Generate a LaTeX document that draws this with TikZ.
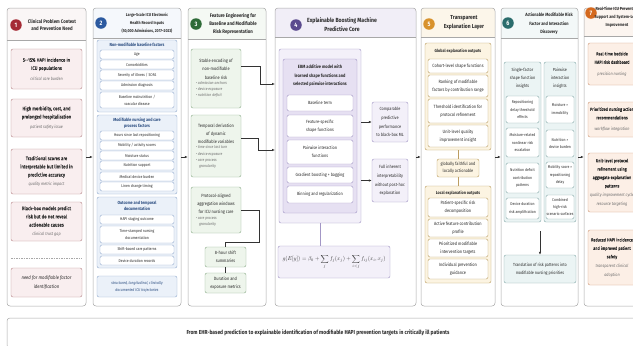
\documentclass[tikz,border=0pt]{standalone}
\usepackage{fontspec}
\setmainfont{Fira Sans}[FakeStretch=0.85]
\newfontfamily\semib{Fira Sans}[FakeStretch=0.85,FakeBold=0.5]
\usetikzlibrary{arrows.meta}
\definecolor{ink}{HTML}{2B2B2B}
\definecolor{soft}{HTML}{6E6E6E}
\definecolor{rule}{HTML}{A8A8A8}
\definecolor{arr}{HTML}{333333}
\definecolor{c1}{HTML}{A52A35}\definecolor{c1fill}{HTML}{F9EEEF}\definecolor{c1line}{HTML}{B9888C}\definecolor{c1hdr}{HTML}{FAF6F6}
\definecolor{c2}{HTML}{2C5AA0}\definecolor{c2fill}{HTML}{EBF1F9}\definecolor{c2line}{HTML}{96AED0}\definecolor{c2hdr}{HTML}{F5F8FC}\definecolor{c2txt}{HTML}{2A4C80}
\definecolor{c3}{HTML}{2E6B37}\definecolor{c3fill}{HTML}{EEF5EC}\definecolor{c3line}{HTML}{8FB08D}\definecolor{c3hdr}{HTML}{F5F9F4}
\definecolor{c4}{HTML}{5B4A8E}\definecolor{c4fill}{HTML}{F3F0F9}\definecolor{c4fillb}{HTML}{E6E0F2}\definecolor{c4line}{HTML}{A397C6}\definecolor{c4hdr}{HTML}{F1EEF7}
\definecolor{c5}{HTML}{D8922C}\definecolor{c5fill}{HTML}{FCF4E2}\definecolor{c5line}{HTML}{BC9E62}\definecolor{c5hdr}{HTML}{FCF6EA}
\definecolor{c6}{HTML}{2A6C6C}\definecolor{c6fill}{HTML}{EBF4F4}\definecolor{c6line}{HTML}{88ACAC}\definecolor{c6hdr}{HTML}{F3F8F8}
\definecolor{c7}{HTML}{D4691F}\definecolor{c7fill}{HTML}{FCEFE6}\definecolor{c7line}{HTML}{D09B7A}\definecolor{c7hdr}{HTML}{FCF5F0}
\newcommand\fA{\fontsize{5}{8.2}\selectfont\semib}
\newcommand\fB{\fontsize{4}{7}\selectfont}
\newcommand\fI{\fontsize{4.4}{5.6}\selectfont\normalfont\itshape\color{soft}}
\newcommand\mybox[7]{%
  \pgfmathsetmacro\mbW{(#5)-(#3)}%
  \pgfmathsetmacro\mbH{(#6)-(#4)}%
  \pgfmathsetmacro\mbX{((#3)+(#5))/2}%
  \pgfmathsetmacro\mbY{((#4)+(#6))/2}%
  \node[#1,inner sep=0pt,minimum width=\mbW pt,minimum height=\mbH pt,align=center] (#2) at (\mbX,\mbY) {#7};}
\newcommand\mypanel[5]{%
  \begin{scope}
    \clip[rounded corners=3pt] (#2,8) rectangle (#3,306);
    \fill[white] (#2,8) rectangle (#3,306);
    \fill[#5hdr] (#2,8) rectangle (#3,#4);
  \end{scope}
  \draw[rule,line width=0.4pt] (#2,#4) -- (#3,#4);
  \mybox{panelb}{#1}{#2}{8}{#3}{306}{}}
\begin{document}
\begin{tikzpicture}[x=1pt,y=-1pt,
  panelb/.style={draw=rule,line width=0.5pt,rounded corners=3pt},
  gbox/.style={draw=#1line,fill=#1fill,rounded corners=2pt,line width=0.45pt,text=ink},
  wbox/.style={draw=#1line,fill=white,rounded corners=1.5pt,line width=0.4pt,text=ink},
  ibox/.style={draw=c4line,fill=c4fillb,rounded corners=2pt,line width=0.45pt},
  num/.style={circle,fill=#1,text=white,inner sep=0pt,minimum size=11.5pt,font=\fontsize{6.4}{6.4}\selectfont\bfseries},
  ttl/.style={align=center,inner sep=0pt,text=ink},
  gttl/.style={align=center,inner sep=0pt,text=ink,font=\fontsize{4.4}{5.8}\selectfont\bfseries},
  cn/.style={draw=arr,line width=0.5pt},
  arw/.style={cn,-{Latex[length=3pt,width=2.4pt]}}]
\useasboundingbox (0,0) rectangle (633,346);
\clip (0,0) rectangle (633,346);
\fill[white] (0,0) rectangle (633,346);

% ---------------- Panel 1
\mypanel{P1}{7}{86}{40}{c1}
\node[num=c1] (n1) at (16,25) {1};
\node[ttl,font=\fontsize{5.1}{7}\selectfont\bfseries] (t1) at (52,25) {Clinical Problem Context\\and Prevention Need};
\mybox{gbox=c1,font=\fA}{A1}{11}{49}{82}{89}{5--15\% HAPI incidence in\\ICU populations\\[2pt]{\fI critical care burden}}
\mybox{gbox=c1,font=\fA}{A2}{11}{99}{82}{137}{High morbidity, cost, and\\prolonged hospitalization\\[2pt]{\fI patient safety issue}}
\mybox{gbox=c1,font=\fA}{A3}{11}{149}{82}{194}{Traditional scores are\\interpretable but limited in\\predictive accuracy\\[1pt]{\fI quality metric impact}}
\mybox{gbox=c1,font=\fA}{A4}{11}{202}{82}{241}{Black-box models predict\\risk but do not reveal\\actionable causes\\[1pt]{\fI clinical trust gap}}
\draw[rule,dashed,dash pattern=on 1.5pt off 1pt,line width=0.4pt] (11,258) -- (82,258);
\mybox{gbox=c1,font=\fontsize{5}{8.2}\selectfont\itshape}{A5}{11}{268}{82}{297}{need for modifiable factor\\identification}

% ---------------- Panel 2
\mypanel{P2}{93}{181}{38}{c2}
\node[num=c2] (n2) at (101,23) {2};
\node[ttl,font=\fontsize{4.2}{8}\selectfont\bfseries] (t2) at (147,23) {Large-Scale ICU Electronic\\Health Record Inputs\\(50,000 Admissions, 2017--2023)};
\mybox{gbox=c2}{G21}{97}{40}{177}{112}{}
\node[gttl,text=c2txt] (g21) at (137,45) {Non-modifiable baseline factors};
\mybox{wbox=c2,font=\fB}{I21}{100}{50}{174}{59}{Age}
\mybox{wbox=c2,font=\fB}{I22}{100}{60}{174}{69}{Comorbidities}
\mybox{wbox=c2,font=\fB}{I23}{100}{70}{174}{80}{Severity of illness / SOFA}
\mybox{wbox=c2,font=\fB}{I24}{100}{81}{174}{90}{Admission diagnosis}
\mybox{wbox=c2,font=\fB}{I25}{100}{92}{174}{108}{Baseline malnutrition /\\vascular disease}
\mybox{gbox=c2}{G22}{97}{115}{177}{194}{}
\node[gttl,text=c2txt] (g22) at (137,123) {Modifiable nursing and care\\process factors};
\mybox{wbox=c2,font=\fB}{I26}{100}{131}{174}{140}{Hours since last repositioning}
\mybox{wbox=c2,font=\fB}{I27}{100}{141}{174}{150}{Mobility / activity scores}
\mybox{wbox=c2,font=\fB}{I28}{100}{151}{174}{160}{Moisture status}
\mybox{wbox=c2,font=\fB}{I29}{100}{161}{174}{170}{Nutrition support}
\mybox{wbox=c2,font=\fB}{I210}{100}{172}{174}{181}{Medical device burden}
\mybox{wbox=c2,font=\fB}{I211}{100}{182}{174}{191}{Linen change timing}
\mybox{gbox=c2}{G23}{97}{197}{177}{268}{}
\node[gttl,text=c2txt] (g23) at (137,206) {Outcome and temporal\\documentation};
\mybox{wbox=c2,font=\fB}{I212}{100}{215}{174}{224}{HAPI staging outcome}
\mybox{wbox=c2,font=\fB}{I213}{100}{226}{174}{243}{Time-stamped nursing\\documentation}
\mybox{wbox=c2,font=\fB}{I214}{100}{245}{174}{254}{Shift-based care patterns}
\mybox{wbox=c2,font=\fB}{I215}{100}{256}{174}{265}{Device duration records}
\mybox{gbox=c2,font=\fB\itshape,text=c2txt}{G24}{97}{276}{177}{297}{structured, longitudinal, clinically\\documented ICU trajectories}

% ---------------- Panel 3
\mypanel{P3}{188}{266}{39}{c3}
\node[num=c3] (n3) at (196,24) {3};
\node[ttl,font=\fontsize{5.1}{8}\selectfont\bfseries] (t3) at (233,24) {Feature Engineering for\\Baseline and Modifiable\\Risk Representation};
\mybox{gbox=c3,font=\fontsize{4.6}{8.2}\selectfont}{S}{191}{49}{241}{108}{Stable encoding of\\non-modifiable\\baseline risk\\[1pt]\parbox{40pt}{\raggedright\fontsize{4}{6.3}\selectfont\itshape\color{soft}\textbullet\ admission anchors\\\textbullet\ device exposure\\\textbullet\ nutrition deficit}}
\mybox{gbox=c3,font=\fontsize{4.6}{8.2}\selectfont}{T}{191}{115}{241}{177}{Temporal derivation\\of dynamic\\modifiable variables\\[1pt]\parbox{40pt}{\raggedright\fontsize{4}{6.3}\selectfont\itshape\color{soft}\textbullet\ time since last turn\\\textbullet\ device exposure\\\textbullet\ care process\\\hspace*{3pt}granularity}}
\mybox{gbox=c3,font=\fontsize{4.6}{8.2}\selectfont}{Pr}{191}{187}{241}{233}{Protocol-aligned\\aggregation windows\\for ICU nursing care\\[1pt]\parbox{40pt}{\raggedright\fontsize{4}{6.3}\selectfont\itshape\color{soft}\textbullet\ care process\\\hspace*{3pt}granularity}}
\mybox{gbox=c3,font=\fontsize{4.6}{8.2}\selectfont}{Sh}{205}{247}{246}{267}{8-hour shift\\summaries}
\mybox{gbox=c3,font=\fontsize{4.6}{8.2}\selectfont}{Du}{205}{273}{246}{293}{Duration and\\exposure metrics}
\coordinate (aS) at (275,84);
\coordinate (aT) at (275,150);
\draw[arw] ([yshift=12.5pt]S.east) -- ++(19,0) |- (aS);
\draw[arw] ([yshift=8pt]T.east) -- ++(17,0) |- (aT);
\draw[cn] (Pr.east) -- ++(18,0) -- ++(0,32) -| (Sh.north);
\draw[cn] (Sh.south) -- (Du.north);

% ---------------- Panel 4
\mypanel{P4}{275}{416}{37}{c4}
\node[num=c4] (n4) at (296,25) {4};
\node[ttl,font=\fontsize{6}{9}\selectfont\bfseries] (t4) at (342,25) {Explainable Boosting Machine\\Predictive Core};
\mybox{gbox=c4}{E}{279}{49}{361}{223}{}
\mybox{ibox}{Ei}{283}{59}{357}{213}{}
\node[ttl,font=\fontsize{4.6}{8.6}\selectfont\bfseries] (Et) at (320,76) {EBM additive model with\\learned shape functions and\\selected pairwise interactions};
\mybox{wbox=c4,font=\fontsize{4.5}{8}\selectfont}{E1}{287}{95}{353}{111}{Baseline term}
\mybox{wbox=c4,font=\fontsize{4.5}{8}\selectfont}{E2}{287}{115}{353}{137}{Feature-specific\\shape functions}
\mybox{wbox=c4,font=\fontsize{4.5}{8}\selectfont}{E3}{287}{140}{353}{164}{Pairwise interaction\\functions}
\mybox{wbox=c4,font=\fontsize{4.5}{8}\selectfont}{E4}{287}{167}{353}{183}{Gradient boosting + bagging}
\mybox{wbox=c4,font=\fontsize{4.5}{8}\selectfont}{E5}{287}{186}{353}{203}{Binning and regularization}
\mybox{gbox=c4,font=\fontsize{4.5}{8.8}\selectfont}{Cp}{372}{102}{408}{142}{Comparable\\predictive\\performance\\to black-box ML}
\mybox{gbox=c4,font=\fontsize{4.5}{8.6}\selectfont}{Fu}{372}{159}{408}{202}{Full inherent\\interpretability\\without post-hoc\\explanation}
\mybox{gbox=c4,text=black!80}{Fo}{278}{246}{390}{278}{\resizebox{103pt}{!}{$\displaystyle g(E[y])=\beta_0+\sum_{j} f_j(x_j)+\sum_{i<j} f_{ij}(x_i,x_j)$}}
\draw[arw] (E.east |- Cp.west) -- (Cp.west);
\draw[arw] (E.east |- Fu.west) -- (Fu.west);
\draw[cn,draw=c4line] (E.south) -- (E.south |- Fo.north);

% ---------------- Panel 5
\mypanel{P5}{421}{495}{37}{c5}
\node[num=c5] (n5) at (429,24) {5};
\node[ttl,font=\fontsize{5.8}{9}\selectfont\bfseries] (t5) at (464,23) {Transparent\\Explanation Layer};
\mybox{gbox=c5}{Gg}{425}{43}{491}{150}{}
\node[gttl] (gg) at (458,51) {Global explanation outputs};
\mybox{wbox=c5,font=\fontsize{4.6}{7.8}\selectfont}{F1}{428}{59}{488}{73}{Cohort-level shape functions}
\mybox{wbox=c5,font=\fontsize{4.6}{7.8}\selectfont}{F2}{428}{75}{488}{97}{Ranking of modifiable\\factors by contribution range}
\mybox{wbox=c5,font=\fontsize{4.6}{7.8}\selectfont}{F3}{428}{99}{488}{123}{Threshold identification for\\protocol refinement}
\mybox{wbox=c5,font=\fontsize{4.6}{7.8}\selectfont}{F4}{428}{125}{488}{147}{Unit-level quality\\improvement insight}
\mybox{gbox=c5,font=\fontsize{4.5}{7}\selectfont}{Mid}{437}{159}{479}{177}{globally faithful and\\locally actionable}
\mybox{gbox=c5}{Lg}{425}{186}{491}{283}{}
\node[gttl] (lg) at (458,193) {Local explanation outputs};
\mybox{wbox=c5,font=\fontsize{4.6}{7.8}\selectfont}{L1}{428}{198}{488}{217}{Patient-specific risk\\decomposition}
\mybox{wbox=c5,font=\fontsize{4.6}{7.8}\selectfont}{L2}{428}{219}{488}{237}{Active feature contribution\\profile}
\mybox{wbox=c5,font=\fontsize{4.6}{7.8}\selectfont}{L3}{428}{239}{488}{257}{Prioritized modifiable\\intervention targets}
\mybox{wbox=c5,font=\fontsize{4.6}{7.8}\selectfont}{L4}{428}{259}{488}{279}{Individual prevention\\guidance}
\draw[cn,draw=c5line] (Gg.south) -- (Mid.north);
\draw[cn,draw=c5line] (Mid.south) -- (Lg.north);

% ---------------- Panel 6
\mypanel{P6}{501}{578}{38}{c6}
\node[num=c6] (n6) at (508,23) {6};
\node[ttl,font=\fontsize{4.6}{8.5}\selectfont\bfseries] (t6) at (549,24) {Actionable Modifiable Risk\\Factor and Interaction\\Discovery};
\mybox{gbox=c6}{Sg}{504}{62}{541}{222}{}
\node[ttl,font=\fontsize{4.4}{8}\selectfont] (sg) at (522.5,78) {Single-factor\\shape function\\insights};
\mybox{wbox=c6,font=\fontsize{4}{7.3}\selectfont}{H1}{506}{96}{539}{123}{Repositioning\\delay threshold\\effects}
\mybox{wbox=c6,font=\fontsize{4}{7.3}\selectfont}{H2}{506}{128}{539}{157}{Moisture-related\\nonlinear risk\\escalation}
\mybox{wbox=c6,font=\fontsize{4}{7.3}\selectfont}{H3}{506}{163}{539}{193}{Nutrition deficit\\contribution\\patterns}
\mybox{wbox=c6,font=\fontsize{4}{7.3}\selectfont}{H4}{506}{198}{539}{219}{Device duration\\risk amplification}
\mybox{gbox=c6}{Pg}{544}{62}{576}{222}{}
\node[ttl,font=\fontsize{4.4}{8}\selectfont] (pg) at (560,78) {Pairwise\\interaction\\insights};
\mybox{wbox=c6,font=\fontsize{4}{7.3}\selectfont}{Q1}{546}{96}{574}{123}{Moisture ×\\immobility}
\mybox{wbox=c6,font=\fontsize{4}{7.3}\selectfont}{Q2}{546}{130}{574}{157}{Nutrition ×\\device burden}
\mybox{wbox=c6,font=\fontsize{4}{7.3}\selectfont}{Q3}{546}{162}{574}{188}{Mobility score ×\\repositioning\\delay}
\mybox{wbox=c6,font=\fontsize{4}{7.3}\selectfont}{Q4}{546}{195}{574}{219}{Combined\\high-risk\\scenario surfaces}
\mybox{gbox=c6,font=\fontsize{4.4}{8}\selectfont}{Tr}{504}{255}{576}{283}{Translation of risk patterns into\\modifiable nursing priorities}
\coordinate (a6) at (540,231);
\draw[arw] (a6) -- (Tr.north);

% ---------------- Panel 7
\mypanel{P7}{584}{642}{36}{c7}
\node[num=c7] (n7) at (591,13) {7};
\node[ttl,font=\fontsize{4.4}{8}\selectfont\bfseries] (t7) at (617,17) {Real-Time ICU Prevention\\Support and System-Level\\Improvement};
\mybox{gbox=c7,font=\fontsize{4.5}{8.4}\selectfont\semib}{R1}{588}{43}{636}{85}{Real-time bedside\\HAPI risk dashboard\\[3pt]{\fI precision nursing}}
\mybox{gbox=c7,font=\fontsize{4.5}{8.4}\selectfont\semib}{R2}{588}{102}{636}{137}{Prioritized nursing action\\recommendations\\[3pt]{\fI workflow integration}}
\mybox{gbox=c7,font=\fontsize{4.5}{8.4}\selectfont\semib}{R3}{588}{153}{636}{212}{Unit-level protocol\\refinement using\\aggregate explanation\\patterns\\[1pt]{\fI quality improvement cycle}\\{\fI resource targeting}}
\mybox{gbox=c7,font=\fontsize{4.5}{8.4}\selectfont\semib}{R4}{588}{230}{636}{285}{Reduced HAPI incidence\\and improved patient\\safety\\[1pt]{\fI transparent clinical}\\{\fI adoption}}

% ---------------- inter-panel arrows
\draw[arw] (P1.east) -- (P2.west);
\draw[arw] (P2.east) -- (P3.west);
\draw[arw] (P4.east) -- (P5.west);
\draw[arw] (P5.east) -- (P6.west);
\draw[arw] (P6.east) -- (P7.west);

% ---------------- banner
\mybox{panelb,fill=white}{Ban}{7}{318}{640}{348}{}
\node[font=\fontsize{5.8}{7}\selectfont\bfseries,text=ink,inner sep=0pt] (BanT) at (318,332.5) {From EHR-based prediction to explainable identification of modifiable HAPI prevention targets in critically ill patients};
\end{tikzpicture}
\end{document}
